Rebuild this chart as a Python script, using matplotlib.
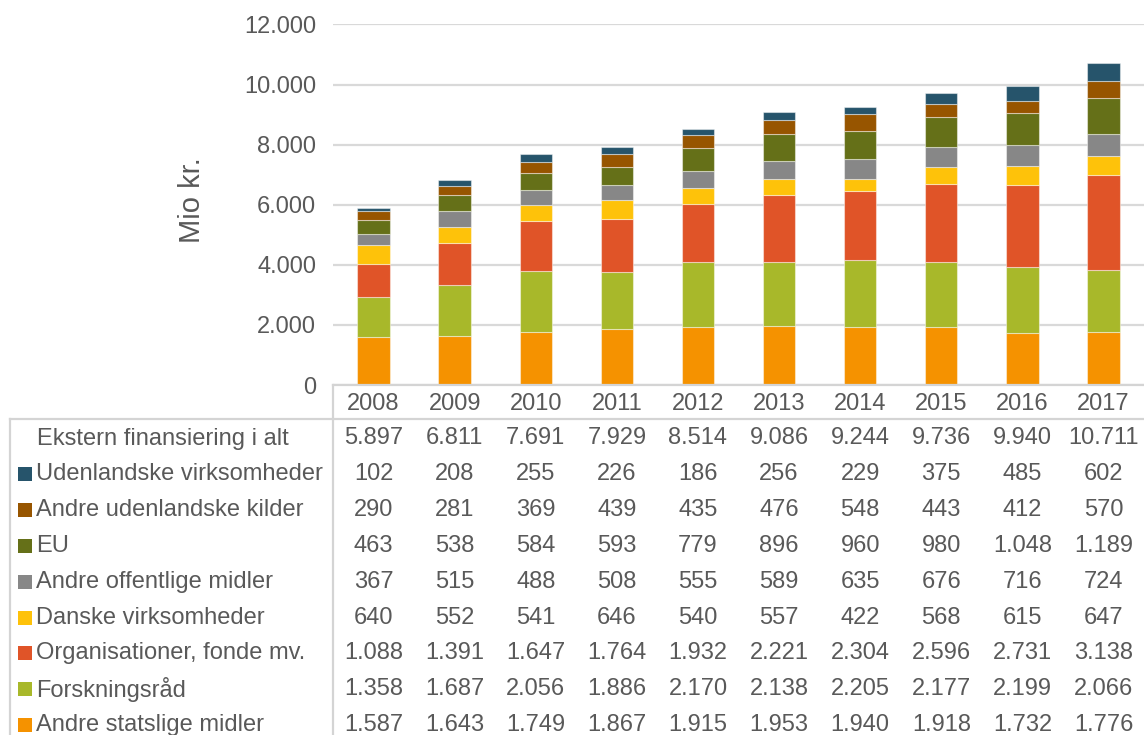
import matplotlib
matplotlib.use("Agg")
import matplotlib.pyplot as plt
from matplotlib import transforms
from matplotlib.lines import Line2D
from matplotlib.patches import Rectangle

years = ["2008", "2009", "2010", "2011", "2012", "2013", "2014", "2015", "2016", "2017"]
total = [5897, 6811, 7691, 7929, 8514, 9086, 9244, 9736, 9940, 10711]
udenlandske_virk = [102, 208, 255, 226, 186, 256, 229, 375, 485, 602]
andre_udenl = [290, 281, 369, 439, 435, 476, 548, 443, 412, 570]
eu = [463, 538, 584, 593, 779, 896, 960, 980, 1048, 1189]
andre_off = [367, 515, 488, 508, 555, 589, 635, 676, 716, 724]
danske_virk = [640, 552, 541, 646, 540, 557, 422, 568, 615, 647]
organisationer = [1088, 1391, 1647, 1764, 1932, 2221, 2304, 2596, 2731, 3138]
forskningsraad = [1358, 1687, 2056, 1886, 2170, 2138, 2205, 2177, 2199, 2066]
andre_statslige = [1587, 1643, 1749, 1867, 1915, 1953, 1940, 1918, 1732, 1776]

# table order (top to bottom)
rows = [
    ("Udenlandske virksomheder", udenlandske_virk, "#26546b"),
    ("Andre udenlandske kilder", andre_udenl, "#975500"),
    ("EU", eu, "#657018"),
    ("Andre offentlige midler", andre_off, "#878787"),
    ("Danske virksomheder", danske_virk, "#fec20a"),
    ("Organisationer, fonde mv.", organisationer, "#e05428"),
    ("Forskningsråd", forskningsraad, "#a8b82a"),
    ("Andre statslige midler", andre_statslige, "#f59200"),
]

W, H = 1144, 735
plt.rcParams['font.family'] = ['Liberation Sans', 'DejaVu Sans']
txt_color = "#595959"
grid_color = "#d9d9d9"
fs = 17

fig = plt.figure(figsize=(W / 100, H / 100), dpi=100)
ax = fig.add_axes([333 / W, (H - 385) / H, 811 / W, 360.6 / H])

x = list(range(len(years)))
bottom = [0] * len(years)
for name, vals, col in reversed(rows):
    ax.bar(x, vals, width=0.40, bottom=bottom, color=col,
           edgecolor=(1, 1, 1, 0.45), linewidth=0.8, zorder=3)
    bottom = [b + v for b, v in zip(bottom, vals)]

ax.set_xlim(-0.5, len(years) - 0.5)
ax.set_ylim(0, 12000)
yticks = [0, 2000, 4000, 6000, 8000, 10000, 12000]
ax.set_yticks(yticks)
ax.set_yticklabels([f"{v:,}".replace(",", ".") for v in yticks], fontsize=fs, color=txt_color)
ax.tick_params(axis='y', length=0, pad=12)
ax.set_xticks([])
for s in ax.spines.values():
    s.set_visible(False)
ax.grid(axis='y', color=grid_color, linewidth=1.6, zorder=0)
ax.set_axisbelow(True)
ax.set_ylabel("Mio kr.", fontsize=21, color=txt_color)
ax.yaxis.set_label_coords((206 - 333) / 811, (385 - 200) / 360.6)

def fy(py):
    return 1 - py / H

def fx(px):
    return px / W

trans = transforms.blended_transform_factory(ax.transData, fig.transFigure)

# table lines
lc = "#d4d4d4"
lw = 1.6
fig.add_artist(Line2D([fx(333), 1], [fy(385), fy(385)], color=lc, lw=lw))
fig.add_artist(Line2D([fx(10), 1], [fy(419), fy(419)], color=lc, lw=lw))
fig.add_artist(Line2D([fx(333), fx(333)], [fy(385), 0], color=lc, lw=lw))
fig.add_artist(Line2D([fx(10), fx(10)], [fy(419), 0], color=lc, lw=lw))

# header
for i, yr in enumerate(years):
    fig.text(i, fy(404), yr, transform=trans, ha='center', va='center',
             fontsize=fs, color=txt_color)

def fmt(v):
    return f"{v:,}".replace(",", ".")

row_y0 = 438.5
row_dy = 35.8
fig.text(fx(37), fy(row_y0), "Ekstern finansiering i alt", ha='left', va='center',
         fontsize=fs, color=txt_color)
for i, v in enumerate(total):
    fig.text(i, fy(row_y0), fmt(v), transform=trans, ha='center', va='center',
             fontsize=fs, color=txt_color)

for r, (name, vals, col) in enumerate(rows):
    yc = row_y0 + (r + 1) * row_dy
    fig.add_artist(Rectangle((fx(18), fy(yc + 7)), 14 / W, 14 / H,
                             transform=fig.transFigure, color=col, lw=0))
    fig.text(fx(36), fy(yc), name, ha='left', va='center', fontsize=fs, color=txt_color)
    for i, v in enumerate(vals):
        fig.text(i, fy(yc), fmt(v), transform=trans, ha='center', va='center',
                 fontsize=fs, color=txt_color)

fig.savefig("out.png", dpi=100)
